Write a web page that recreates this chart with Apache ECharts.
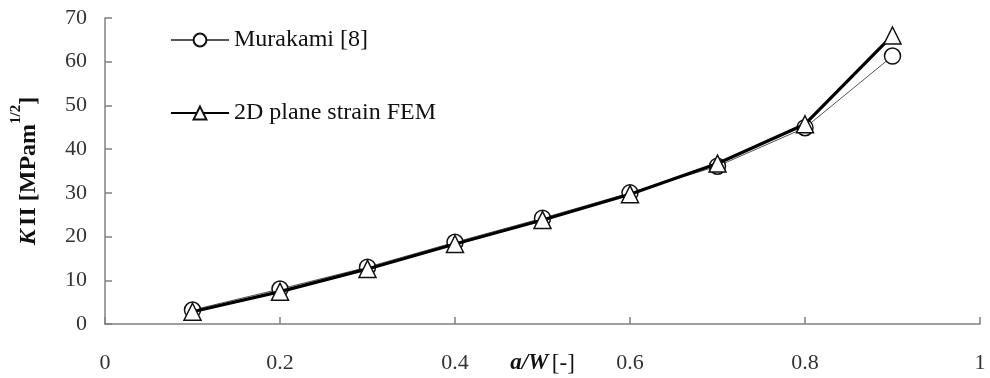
<!DOCTYPE html>
<html><head><meta charset="utf-8">
<script src="https://cdn.jsdelivr.net/npm/echarts@6/dist/echarts.min.js"></script>
<style>html,body{margin:0;padding:0;background:#fff}#c{width:990px;height:378px}</style>
</head><body><div id="c"></div>
<script>
const aW = [0.1, 0.2, 0.3, 0.4, 0.5, 0.6, 0.7, 0.8, 0.9];
const murakami = [3.2, 8.0, 13.0, 18.7, 24.2, 30.0, 36.1, 44.9, 61.3];
const fem = [2.8, 7.4, 12.6, 18.3, 23.8, 29.7, 36.7, 45.7, 66.0];
const seriesNames = ['Murakami [8]', '2D plane strain FEM'];

const FONT = 'Liberation Serif';
const chart = echarts.init(document.getElementById('c'), null, {renderer: 'canvas'});
const pairs = (ys) => aW.map((x, i) => [x, ys[i]]);

chart.setOption({
  animation: false,
  backgroundColor: '#fff',
  grid: {left: 105, right: 10, top: 18, bottom: 54, outerBoundsMode: 'none'},
  legend: {
    orient: 'vertical', left: 165, top: 23, padding: 5, itemWidth: 58, itemHeight: 16, itemGap: 49,
    data: seriesNames,
    textStyle: {fontFamily: FONT, fontSize: 24, color: '#111'}
  },
  xAxis: {
    type: 'value', min: 0, max: 1, interval: 0.2,
    name: '{i|a/W} {n|[-]}', nameLocation: 'middle', nameGap: 28, nameMoveOverlap: false,
    nameTextStyle: {verticalAlign: 'top', rich: {
      i: {fontFamily: FONT, fontSize: 23, fontStyle: 'italic', fontWeight: 'bold', color: '#111'},
      n: {fontFamily: FONT, fontSize: 23, color: '#111'}
    }},
    axisLine: {lineStyle: {color: '#808080', width: 1.5}},
    axisTick: {inside: true, length: 7, lineStyle: {color: '#808080', width: 1.5}},
    axisLabel: {fontFamily: FONT, fontSize: 22, color: '#333', margin: 28},
    splitLine: {show: false}
  },
  yAxis: {
    type: 'value', min: 0, max: 70, interval: 10,
    name: '{k|K} {b|II [MPam}{s|1/2}{b|]}', nameLocation: 'middle', nameGap: 64, nameRotate: 90, nameMoveOverlap: false,
    nameTextStyle: {rich: {
      k: {fontFamily: FONT, fontSize: 24, fontStyle: 'italic', fontWeight: 'bold', color: '#111', lineHeight: 32, verticalAlign: 'bottom'},
      b: {fontFamily: FONT, fontSize: 24, fontWeight: 'bold', color: '#111', lineHeight: 32, verticalAlign: 'bottom'},
      s: {fontFamily: FONT, fontSize: 15, fontWeight: 'bold', color: '#111', lineHeight: 32, verticalAlign: 'top'}
    }},
    axisLine: {show: true, lineStyle: {color: '#808080', width: 1.5}},
    axisTick: {show: true, inside: true, length: 7, lineStyle: {color: '#808080', width: 1.5}},
    axisLabel: {fontFamily: FONT, fontSize: 22, color: '#333', margin: 18},
    splitLine: {show: false}
  },
  series: [
    {
      name: seriesNames[0], type: 'line', data: pairs(murakami),
      symbol: 'circle', symbolSize: 16,
      lineStyle: {color: '#555', width: 1},
      itemStyle: {color: '#fff', borderColor: '#111', borderWidth: 1.5},
      z: 2
    },
    {
      name: seriesNames[1], type: 'line', data: pairs(fem),
      symbol: 'triangle', symbolSize: 17,
      lineStyle: {color: '#000', width: 3.2},
      itemStyle: {color: '#fff', borderColor: '#111', borderWidth: 1.5},
      z: 3
    }
  ]
});
</script></body></html>
